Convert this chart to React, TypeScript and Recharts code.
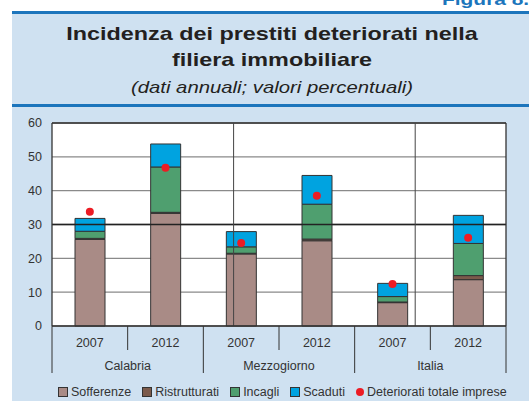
import React from "react";
import {
  ComposedChart,
  Bar,
  Scatter,
  XAxis,
  YAxis,
  CartesianGrid,
  ReferenceLine,
} from "recharts";

const regions = ["Calabria", "Calabria", "Mezzogiorno", "Mezzogiorno", "Italia", "Italia"];
const years = ["2007", "2012", "2007", "2012", "2007", "2012"];

const sofferenze = [25.6, 33.3, 21.3, 25.2, 6.9, 13.7];
const ristrutturati = [0.3, 0.3, 0.2, 0.5, 0.2, 1.2];
const incagli = [2.1, 13.4, 1.9, 10.3, 1.6, 9.5];
const scaduti = [3.8, 6.8, 4.5, 8.5, 3.9, 8.3];
const totaleImprese = [33.8, 46.8, 24.5, 38.5, 12.4, 26.1];

const yTicks = [0, 10, 20, 30, 40, 50, 60];

const COLORS = {
  sofferenze: "#a98b86",
  ristrutturati: "#7b5a4b",
  incagli: "#4f9f6f",
  scaduti: "#00a3e0",
  totale: "#ec1c24",
};

const FONT = "'Liberation Sans', Arial, sans-serif";
const W = 529;
const H = 401;
const LEFT_AXIS_W = 52;
const RIGHT_AXIS_W = 23;
const PLOT_W = W - LEFT_AXIS_W - RIGHT_AXIS_W;
const BAND = PLOT_W / years.length;

const data = years.map((year, i) => ({
  key: `${regions[i]} ${year}`,
  sofferenze: sofferenze[i],
  ristrutturati: ristrutturati[i],
  incagli: incagli[i],
  scaduti: scaduti[i],
  totale: totaleImprese[i],
}));

function YearTick(props: any) {
  const { x, y, index } = props;
  const isGroupStart = index % 2 === 0;
  const last = index === years.length - 1;
  return (
    <g>
      <line x1={x - BAND / 2} x2={x - BAND / 2} y1={y} y2={y + (isGroupStart ? 47 : 24)} stroke="#333" strokeWidth={1} />
      {last && <line x1={x + BAND / 2} x2={x + BAND / 2} y1={y} y2={y + 47} stroke="#333" strokeWidth={1} />}
      <text x={x} y={y + 17} textAnchor="middle" dominantBaseline="central" fontSize={12.5} fill="#333" fontFamily={FONT}>
        {years[index]}
      </text>
      {isGroupStart && (
        <text x={x + BAND / 2} y={y + 40} textAnchor="middle" dominantBaseline="central" fontSize={12.5} fill="#333" fontFamily={FONT}>
          {regions[index]}
        </text>
      )}
    </g>
  );
}

const legendItems = [
  { name: "Sofferenze", color: COLORS.sofferenze, dot: false },
  { name: "Ristrutturati", color: COLORS.ristrutturati, dot: false },
  { name: "Incagli", color: COLORS.incagli, dot: false },
  { name: "Scaduti", color: COLORS.scaduti, dot: false },
  { name: "Deteriorati totale imprese", color: COLORS.totale, dot: true },
];

const stretch = { transform: "scaleX(1.23)", transformOrigin: "center" };

export default function App() {
  return (
    <div style={{ position: "fixed", left: 0, top: 0, width: W, height: H, overflow: "hidden", background: "#fff", fontFamily: FONT }}>
      <div
        style={{
          position: "absolute",
          left: 442,
          top: -9.5,
          fontSize: 17,
          lineHeight: "17px",
          fontWeight: "bold",
          color: "#1c75bc",
          whiteSpace: "nowrap",
          transform: "scaleX(1.23)",
          transformOrigin: "left center",
        }}
      >
        Figura 8.3
      </div>
      <div style={{ position: "absolute", left: 12, top: 12, width: 530, height: 400, background: "#cfe1f1" }} />
      <div style={{ position: "absolute", left: 12, top: 11, width: 530, height: 2.5, background: "#1c75bc" }} />
      <div style={{ position: "absolute", left: 12, top: 104, width: 530, height: 2.5, background: "#1c75bc" }} />
      <div style={{ position: "absolute", left: 12, top: 21, width: 520, textAlign: "center", color: "#231f20" }}>
        <div style={{ fontSize: 19, fontWeight: "bold", lineHeight: "26px", ...stretch }}>Incidenza dei prestiti deteriorati nella</div>
        <div style={{ fontSize: 19, fontWeight: "bold", lineHeight: "26px", ...stretch }}>filiera immobiliare</div>
        <div style={{ fontSize: 16.5, fontStyle: "italic", lineHeight: "28px", ...stretch }}>(dati annuali; valori percentuali)</div>
      </div>

      <div style={{ position: "absolute", left: 0, top: 0 }}>
        <ComposedChart width={W} height={H} data={data} margin={{ top: 123, right: 0, bottom: 27, left: 0 }} barSize={30}>
          <CartesianGrid yAxisId="left" vertical={false} stroke="#8a8a8a" strokeWidth={1.3} fill="#fff" fillOpacity={1} />
          <XAxis
            dataKey="key"
            height={48}
            interval={0}
            tickSize={0}
            tickMargin={0}
            tickLine={false}
            axisLine={{ stroke: "#333", strokeWidth: 1.3 }}
            tick={(p: any) => <YearTick {...p} />}
          />
          <XAxis xAxisId="num" type="number" domain={[0, years.length]} hide />
          <YAxis
            yAxisId="left"
            width={LEFT_AXIS_W}
            domain={[0, 60]}
            ticks={yTicks}
            interval={0}
            tickSize={0}
            tickMargin={10}
            axisLine={{ stroke: "#333", strokeWidth: 1.3 }}
            tickLine={false}
            tick={{ fontSize: 12.5, fill: "#333", fontFamily: FONT }}
          />
          <YAxis
            yAxisId="right"
            orientation="right"
            width={RIGHT_AXIS_W}
            domain={[0, 60]}
            ticks={yTicks}
            interval={0}
            tickSize={0}
            tickMargin={10}
            axisLine={{ stroke: "#333", strokeWidth: 1.3 }}
            tickLine={false}
            tick={{ fontSize: 12.5, fill: "#333", fontFamily: FONT, textAnchor: "start" }}
          />
          <ReferenceLine yAxisId="left" y={30} stroke="#222" strokeWidth={1.3} />
          <ReferenceLine yAxisId="left" y={60} stroke="#333" strokeWidth={1.3} />
          <ReferenceLine yAxisId="left" xAxisId="num" x={2} stroke="#444" strokeWidth={1} />
          <ReferenceLine yAxisId="left" xAxisId="num" x={4} stroke="#444" strokeWidth={1} />
          <Bar yAxisId="left" dataKey="sofferenze" stackId="a" fill={COLORS.sofferenze} stroke="#333" strokeWidth={1} isAnimationActive={false} />
          <Bar yAxisId="left" dataKey="ristrutturati" stackId="a" fill={COLORS.ristrutturati} stroke="#333" strokeWidth={1} isAnimationActive={false} />
          <Bar yAxisId="left" dataKey="incagli" stackId="a" fill={COLORS.incagli} stroke="#333" strokeWidth={1} isAnimationActive={false} />
          <Bar yAxisId="left" dataKey="scaduti" stackId="a" fill={COLORS.scaduti} stroke="#333" strokeWidth={1} isAnimationActive={false} />
          <Scatter
            yAxisId="left"
            dataKey="totale"
            fill={COLORS.totale}
            isAnimationActive={false}
            shape={(p: any) => <circle cx={p.cx} cy={p.cy} r={4} fill={COLORS.totale} />}
          />
        </ComposedChart>
      </div>

      <div style={{ position: "absolute", left: 58, top: 385, display: "flex", alignItems: "center", fontSize: 12.5, color: "#333", whiteSpace: "nowrap" }}>
        {legendItems.map((it) => (
          <div key={it.name} style={{ display: "flex", alignItems: "center", marginRight: 11 }}>
            {it.dot ? (
              <span style={{ width: 8, height: 8, borderRadius: 4, background: it.color, marginRight: 3, display: "inline-block" }} />
            ) : (
              <span style={{ width: 8, height: 8, background: it.color, border: "1px solid #333", marginRight: 3, display: "inline-block" }} />
            )}
            <span>{it.name}</span>
          </div>
        ))}
      </div>
    </div>
  );
}
